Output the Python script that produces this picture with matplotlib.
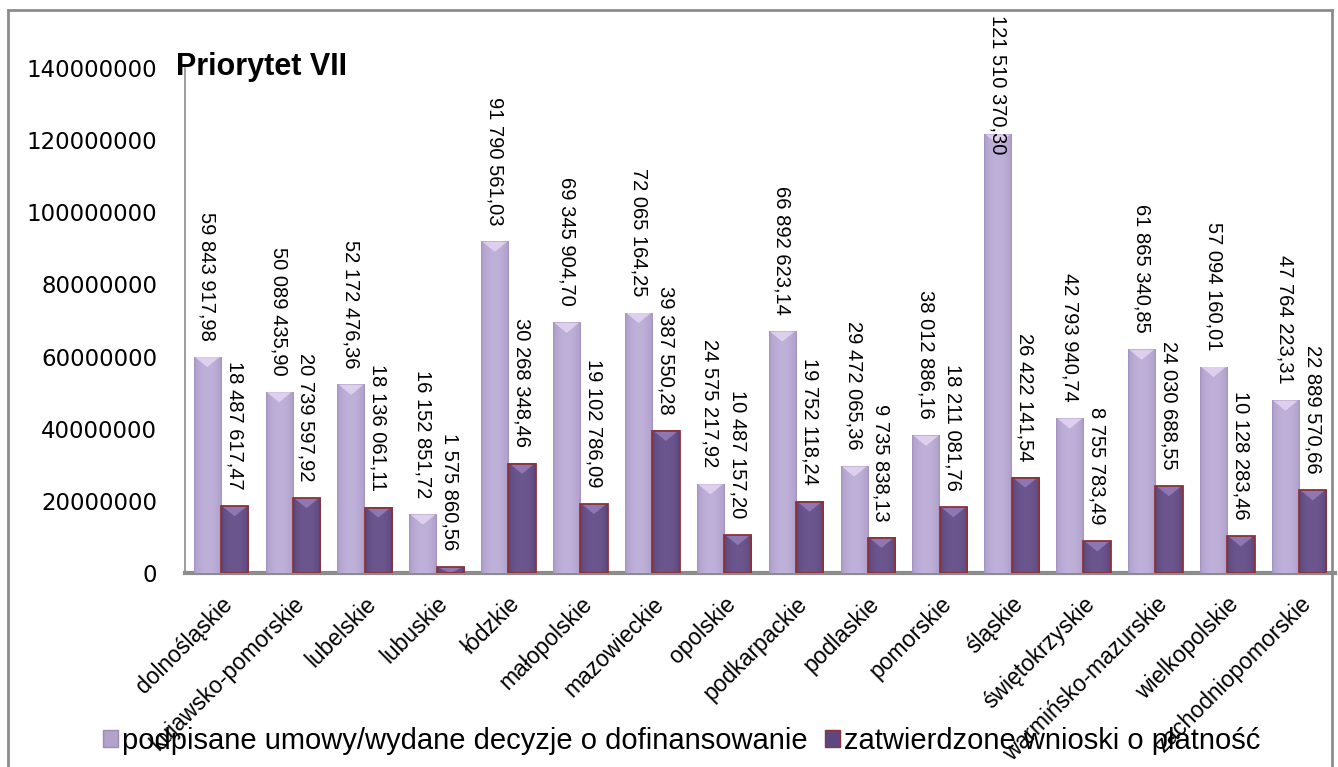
import numpy as np
import matplotlib
matplotlib.use("Agg")
import matplotlib.pyplot as plt
from matplotlib.patches import Patch, Polygon
from matplotlib.lines import Line2D
import matplotlib.transforms as mtransforms

# dane - Priorytet VII
wojewodztwa = ["dolnośląskie", "kujawsko-pomorskie", "lubelskie", "lubuskie", "łódzkie",
               "małopolskie", "mazowieckie", "opolskie", "podkarpackie", "podlaskie",
               "pomorskie", "śląskie", "świętokrzyskie", "warmińsko-mazurskie",
               "wielkopolskie", "zachodniopomorskie"]
umowy = [59843917.98, 50089435.90, 52172476.36, 16152851.72, 91790561.03,
         69345904.70, 72065164.25, 24575217.92, 66892623.14, 29472065.36,
         38012886.16, 121510370.30, 42793940.74, 61865340.85, 57094160.01,
         47764223.31]
wnioski = [18487617.47, 20739597.92, 18136061.11, 1575860.56, 30268348.46,
           19102786.09, 39387550.28, 10487157.20, 19752118.24, 9735838.13,
           18211081.76, 26422141.54, 8755783.49, 24030688.55, 10128283.46,
           22889570.66]
nazwy_serii = ["podpisane umowy/wydane decyzje o dofinansowanie",
               "zatwierdzone wnioski o płatność"]
y_ticks = [0, 20000000, 40000000, 60000000, 80000000, 100000000, 120000000, 140000000]

W, H = 1338, 767
fig = plt.figure(figsize=(W / 100, H / 100), dpi=100)
ax = fig.add_axes([185 / W, 1 - 573 / H, 1150 / W, 505 / H])
ax.set_xlim(-0.5, len(wojewodztwa) - 0.5)
ax.set_ylim(0, 140000000)

# ile jednostek danych to 1 piksel w pionie
px = 140000000 / 505


def pl(s):
    # polska liczba: spacje tysięcy, przecinek dziesiętny
    a = f"{s:,.2f}"
    return a.replace(",", " ").replace(".", ",")


def gradient_bar(x, h, w, edge_c, mid_c, top_c, z):
    t = np.linspace(0, 1, 60)
    f = np.sin(np.pi * t) ** 0.35
    edge_c = np.array(edge_c) / 255
    mid_c = np.array(mid_c) / 255
    img = edge_c[None, None, :] + (mid_c - edge_c)[None, None, :] * f[None, :, None]
    ax.imshow(img, extent=(x - w / 2, x + w / 2, 0, h), aspect="auto",
              interpolation="bicubic", zorder=z)
    # jasny "daszek" na górze słupka
    d = min(10 * px, h)
    tri = Polygon([(x - w / 2 + 0.02, h), (x + w / 2 - 0.02, h), (x, h - d)],
                  closed=True, facecolor=np.array(top_c) / 255, edgecolor="none",
                  alpha=0.8, zorder=z + 0.5)
    ax.add_patch(tri)


x = np.arange(len(wojewodztwa))
bw = 0.38
off = 0.19
for i in range(len(x)):
    gradient_bar(x[i] - off, umowy[i], bw, (160, 142, 190), (190, 176, 216), (232, 216, 245), 2)
    gradient_bar(x[i] + off, wnioski[i], bw, (80, 60, 108), (108, 86, 142), (150, 128, 190), 2)
ax.bar(x + off, wnioski, bw, facecolor="none", edgecolor="#8e3339", linewidth=1.3, zorder=3)

ax.set_xlim(-0.5, len(x) - 0.5)
ax.set_ylim(0, 140000000)
ax.set_yticks(y_ticks)
ax.set_yticklabels([str(v) for v in y_ticks], fontsize=16.5, family="DejaVu Sans")
ax.set_xticks(x)
ax.set_xticklabels(wojewodztwa, rotation=45, ha="right", va="top",
                   rotation_mode="anchor", fontsize=16.5, family="Liberation Sans")
ax.tick_params(axis="y", length=0, pad=20)
ax.tick_params(axis="x", length=0, pad=14)
for s in ["top", "right"]:
    ax.spines[s].set_visible(False)
ax.spines["left"].set_color("#8c8c8c")
ax.spines["left"].set_linewidth(1.2)
ax.spines["bottom"].set_color("#8c8c8c")
ax.spines["bottom"].set_linewidth(3)
ax.spines["bottom"].set_zorder(1)

# etykiety wartości
labels = []
for i in range(len(x)):
    for xx, v in [(x[i] - off, umowy[i]), (x[i] + off, wnioski[i])]:
        t = ax.annotate(pl(v), (xx, v), xytext=(0, 12), textcoords="offset points",
                        rotation=270, ha="center", va="bottom", fontsize=14.5,
                        family="Liberation Sans", zorder=5, annotation_clip=False)
        labels.append((t, xx))

fig.canvas.draw()
r = fig.canvas.get_renderer()
for t, xx in labels:
    bb = t.get_window_extent(r)
    if bb.y1 > H - 15:
        t.remove()
        tr = mtransforms.blended_transform_factory(ax.transData, fig.transFigure)
        ax.text(xx, 1 - 15 / H, t.get_text(), transform=tr, rotation=270,
                ha="center", va="top", fontsize=14.5, family="Liberation Sans", zorder=5)

# tytuł
fig.text(176 / W, 1 - 75 / H, "Priorytet VII", fontsize=22, fontweight="bold",
         family="Liberation Sans", va="baseline", zorder=10)

# legenda
handles = [Patch(facecolor="#b3a3cc", edgecolor="#9a8cb5"),
           Patch(facecolor="#5e4780", edgecolor="#8e3339")]
fig.legend(handles, nazwy_serii, loc="center", bbox_to_anchor=(682 / W, 1 - 741 / H),
           ncol=2, frameon=False, prop={"family": "Liberation Sans", "size": 21},
           handlelength=0.5, handleheight=0.5, handletextpad=0.15, columnspacing=0.6)

# ramka
for xs, ys in [((8, 8), (10, 780)), ((8, 1332), (10, 10)), ((1332, 1332), (10, 780))]:
    fig.add_artist(Line2D([a / W for a in xs], [1 - b / H for b in ys],
                          color="#8c8c8c", linewidth=2, transform=fig.transFigure))

fig.savefig("out.png", dpi=100)
